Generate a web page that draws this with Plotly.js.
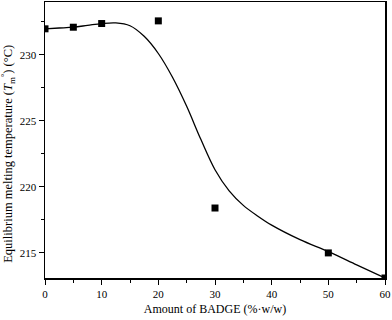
<!DOCTYPE html>
<html>
<head>
<meta charset="utf-8">
<script src="https://cdn.plot.ly/plotly-3.0.1.min.js"></script>
<style>
  html, body { margin: 0; padding: 0; background: #fff; }
  #chart { width: 392px; height: 320px; }
</style>
</head>
<body>
<div id="chart"></div>
<script>
// measured melting temperatures
const badgeAmount = [0, 5, 10, 20, 30, 50, 60];
const meltTemp = [231.97, 232.09, 232.37, 232.57, 218.4, 215.0, 213.1];

// fitted curve
const fitX = [0, 2.5, 5, 7.5, 10, 12.5, 15, 17.5, 20, 22.5, 25, 27.5, 30, 32.5, 35, 37.5, 40, 45, 50, 55, 60];
const fitY = [231.97, 232.03, 232.09, 232.23, 232.37, 232.42, 232.2, 231.4, 230.1, 228.3, 226.1, 223.6,
  221.3, 219.7, 218.6, 217.8, 217.1, 216.0, 215.1, 214.1, 213.1];

const serif = 'Liberation Serif, Times New Roman, serif';

const axisBase = {
  showline: true,
  linecolor: '#000',
  linewidth: 1.5,
  mirror: true,
  showgrid: false,
  zeroline: false,
  ticks: 'outside',
  ticklen: 5,
  tickwidth: 1,
  tickcolor: '#000',
  tickfont: { family: serif, size: 11, color: '#000' }
};

Plotly.newPlot('chart', [
  {
    type: 'scatter',
    mode: 'lines',
    x: fitX,
    y: fitY,
    line: { color: '#000', width: 1.3, shape: 'spline', smoothing: 1 },
    hoverinfo: 'skip'
  },
  {
    type: 'scatter',
    mode: 'markers',
    x: badgeAmount,
    y: meltTemp,
    marker: { symbol: 'square', size: 7, color: '#000' }
  }
], {
  width: 392,
  height: 320,
  showlegend: false,
  paper_bgcolor: '#fff',
  plot_bgcolor: '#fff',
  margin: { l: 45, r: 7, t: 2, b: 42 },
  font: { family: serif, color: '#000' },
  xaxis: {
    ...axisBase,
    range: [0, 60],
    dtick: 10,
    minor: { dtick: 5, ticks: 'outside', ticklen: 3, tickcolor: '#000' },
    title: { text: 'Amount of BADGE (%·w/w)', font: { family: serif, size: 12 }, standoff: 6 }
  },
  yaxis: {
    ...axisBase,
    range: [213.1, 234],
    dtick: 5,
    minor: { dtick: 2.5, ticks: 'outside', ticklen: 3, tickcolor: '#000' }
  },
  annotations: [{
    xref: 'paper', yref: 'paper',
    x: 0, y: 0.45,
    xanchor: 'center', yanchor: 'middle',
    xshift: -37,
    textangle: -90,
    showarrow: false,
    text: 'Equilibrium melting temperature (<i>T</i><sub>m</sub><sup>°</sup>) (°C)',
    font: { family: serif, size: 12.5, color: '#000' }
  }]
}, { displayModeBar: false, staticPlot: true });
</script>
</body>
</html>
